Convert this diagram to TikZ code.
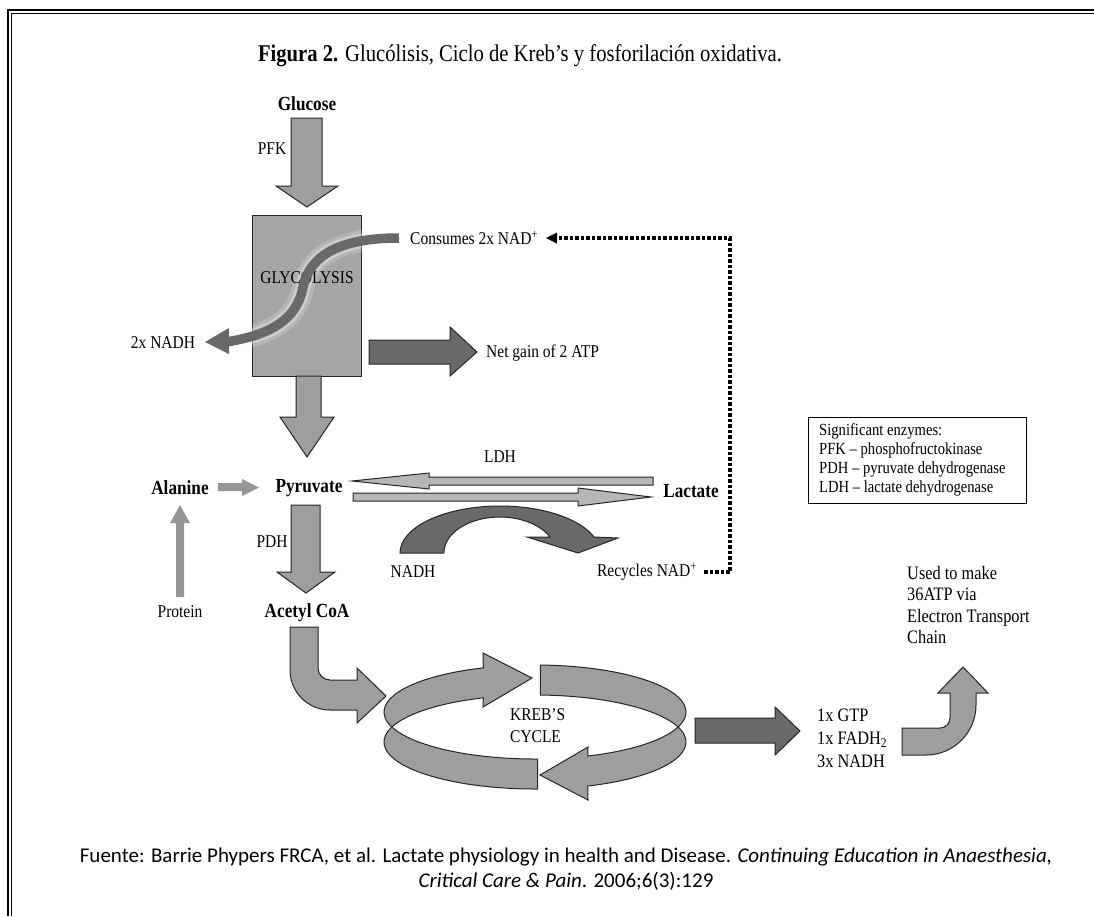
\documentclass[tikz,border=0pt]{standalone}
\usepackage{fontspec}
\setmainfont{Liberation Serif}[FakeStretch=0.86]
\newfontfamily\srcfont{Carlito}
\definecolor{midg}{RGB}{158,158,158}
\definecolor{boxg}{RGB}{165,165,165}
\definecolor{darkg}{RGB}{105,105,105}
\definecolor{lightg}{RGB}{182,182,182}
\definecolor{plaing}{RGB}{150,150,150}
\begin{document}
\begin{tikzpicture}[x=1pt,y=1pt,
  ol/.style={draw=black!85, line width=1pt, line join=miter},
  midarrow/.style={ol, fill=midg},
  darkarrow/.style={ol, fill=darkg},
  lightarrow/.style={ol, fill=lightg},
  lbl/.style={font=\fontsize{18}{20}\selectfont, inner sep=0pt},
  blbl/.style={font=\fontsize{20}{22}\selectfont\bfseries, inner sep=0pt},
  dotline/.style={line width=3.5pt, dash pattern=on 3.5pt off 2pt}
]
\useasboundingbox (0,0) rectangle (1094,-916);
\fill[white] (0,0) rectangle (1094,-916);
% frame
\draw[line width=2pt] (7.5,-916) -- (7.5,-9.5) -- (1094,-9.5);
\draw[line width=1.5pt] (11.5,-916) -- (11.5,-13.5) -- (1094,-13.5);
% title
\node[lbl, font=\fontsize{24}{26}\selectfont] (title) at (520,-56) {\textbf{Figura 2.} Glucólisis, Ciclo de Kreb’s y fosforilación oxidativa.};
% glucose and PFK
\node[blbl] (glucose) at (307,-104) {Glucose};
\draw[midarrow] (291,-118) -- (322,-118) -- (322,-186) -- (338,-186) -- (307,-207) -- (276,-186) -- (291,-186) -- cycle;
\node[lbl] (pfk) at (272,-149) {PFK};
% glycolysis box
\draw[ol, fill=boxg] (252,-215) rectangle (361,-376);
% S curve
\draw[white, opacity=0.18, line width=22pt] (399,-238) .. controls (340,-238) and (310,-255) .. (303,-287) .. controls (297,-320) and (270,-335) .. (226,-342);
\draw[white, opacity=0.3, line width=15pt] (399,-238) .. controls (340,-238) and (310,-255) .. (303,-287) .. controls (297,-320) and (270,-335) .. (226,-342);
\node[lbl] (glyc) at (307,-278) {GLYCOLYSIS};
\draw[darkg, line width=9.5pt] (399,-238) .. controls (340,-238) and (310,-255) .. (303,-287) .. controls (297,-320) and (270,-335) .. (226,-342);
\fill[darkg] (229,-328) -- (205,-342) -- (229,-354) -- cycle;
\node[lbl, anchor=west] (consumes) at (410,-238) {Consumes 2x NAD\textsuperscript{+}};
\node[lbl] (nadh1) at (163,-343) {2x NADH};
% net gain
\draw[darkarrow] (369,-340) -- (450,-340) -- (450,-327) -- (477,-352) -- (450,-376) -- (450,-364) -- (369,-364) -- cycle;
\node[lbl, anchor=west] (atp) at (486,-353) {Net gain of 2 ATP};
% down to pyruvate
\draw[midarrow] (296,-376) -- (321,-376) -- (321,-417) -- (334,-417) -- (307,-457) -- (280,-417) -- (296,-417) -- cycle;
% LDH
\node[lbl] (ldh) at (500,-457) {LDH};
\draw[lightarrow] (653,-477) -- (429,-477) -- (429,-473) -- (352,-481) -- (429,-489) -- (429,-485) -- (653,-485) -- cycle;
\draw[lightarrow] (353,-493) -- (578,-493) -- (578,-488) -- (651,-497) -- (578,-506) -- (578,-501) -- (353,-501) -- cycle;
\node[blbl] (alanine) at (180,-488) {Alanine};
\node[blbl] (pyruvate) at (309,-488) {Pyruvate};
\node[blbl] (lactate) at (691,-491) {Lactate};
\fill[plaing] (218,-483) -- (242,-483) -- (242,-479) -- (259,-487.5) -- (242,-496) -- (242,-491) -- (218,-491) -- cycle;
\fill[plaing] (176,-597) -- (176,-523) -- (170,-523) -- (180,-505) -- (190,-523) -- (184,-523) -- (184,-597) -- cycle;
\node[lbl] (protein) at (180,-612) {Protein};
% PDH
\draw[midarrow] (291,-505) -- (320,-505) -- (320,-572) -- (335,-572) -- (306,-593) -- (277,-572) -- (291,-572) -- cycle;
\node[lbl] (pdh) at (272,-542) {PDH};
\node[blbl] (acetyl) at (307,-613) {Acetyl CoA};
% NADH arch
\draw[darkarrow] (400,-553) arc[start angle=180, end angle=19.9, x radius=100, y radius=47] -- (618,-538) -- (578,-553) -- (527,-537) -- (550,-537) arc[start angle=26.4, end angle=180, x radius=56, y radius=36] -- cycle;
\node[lbl] (nadh2) at (413,-572) {NADH};
\node[lbl] (recycles) at (647,-572) {Recycles NAD\textsuperscript{+}};
% dotted feedback
\coordinate (d0) at (704,-572);
\coordinate (d1) at (730,-572);
\coordinate (d2) at (730,-238);
\coordinate (d3) at (556,-238);
\draw[dotline] (d0) -- (d1) -- (d2) -- (d3);
\fill (557,-232.5) -- (546,-238) -- (557,-243.5) -- cycle;
% enzymes box
\draw[line width=1pt] (808,-417) rectangle (1026,-503);
\node[lbl, anchor=north west, align=left, font=\fontsize{17}{19}\selectfont] (enz) at (819,-423) {Significant enzymes:\\PFK – phosphofructokinase\\PDH – pyruvate dehydrogenase\\LDH – lactate dehydrogenase};
% used to make
\node[lbl, anchor=north west, align=left, font=\fontsize{19}{21.5}\selectfont] (used) at (907,-566) {Used to make\\36ATP via\\Electron Transport\\Chain};
% acetyl to krebs
\draw[midarrow] (290,-627) -- (290,-670) arc[start angle=180, end angle=270, radius=40] -- (357,-710) -- (357,-723) -- (386,-696) -- (357,-668) -- (357,-680) -- (330,-680) arc[start angle=270, end angle=180, radius=12] -- (318,-627) -- cycle;
% Krebs ring
\draw[midarrow] ([shift={(535,-712)}]271:151 and 47) arc[start angle=271, end angle=110, x radius=151, y radius=47] -- (483,-653) -- (532,-678) -- (483,-707) -- ([shift={(535,-742)}]110:151 and 47) arc[start angle=110, end angle=271, x radius=151, y radius=47] -- cycle;
\draw[midarrow] ([shift={(535,-712)}]88:151 and 47) arc[start angle=88, end angle=-69.5, x radius=151, y radius=47] -- (588,-747) -- (540,-775) -- (588,-800) -- ([shift={(535,-742)}]-69.5:151 and 47) arc[start angle=-69.5, end angle=88, x radius=151, y radius=47] -- cycle;
\node[lbl, anchor=west, align=left, font=\fontsize{18}{22}\selectfont] (krebs) at (510,-726) {KREB’S\\CYCLE};
% GTP
\draw[darkarrow] (695,-718) -- (775,-718) -- (775,-707) -- (800,-731) -- (775,-755) -- (775,-743) -- (695,-743) -- cycle;
\node[lbl, anchor=west, align=left, font=\fontsize{19}{23}\selectfont] (gtp) at (817,-738) {1x GTP\\1x FADH\textsubscript{2}\\3x NADH};
% up arrow
\draw[midarrow] (902,-728) -- (940,-728) arc[start angle=-90, end angle=0, radius=10] -- (950,-693) -- (938,-693) -- (963,-667) -- (988,-693) -- (976,-693) -- (976,-705) arc[start angle=0, end angle=-90, radius=50] -- (902,-755) -- cycle;
% source
\node[font=\srcfont\fontsize{21}{25}\selectfont, align=center, inner sep=0pt] (src) at (566,-869.5) {Fuente: Barrie Phypers FRCA, et al. Lactate physiology in health and Disease. \textit{Continuing Education in Anaesthesia,}\\\textit{Critical Care \& Pain}. 2006;6(3):129};
\end{tikzpicture}
\end{document}
